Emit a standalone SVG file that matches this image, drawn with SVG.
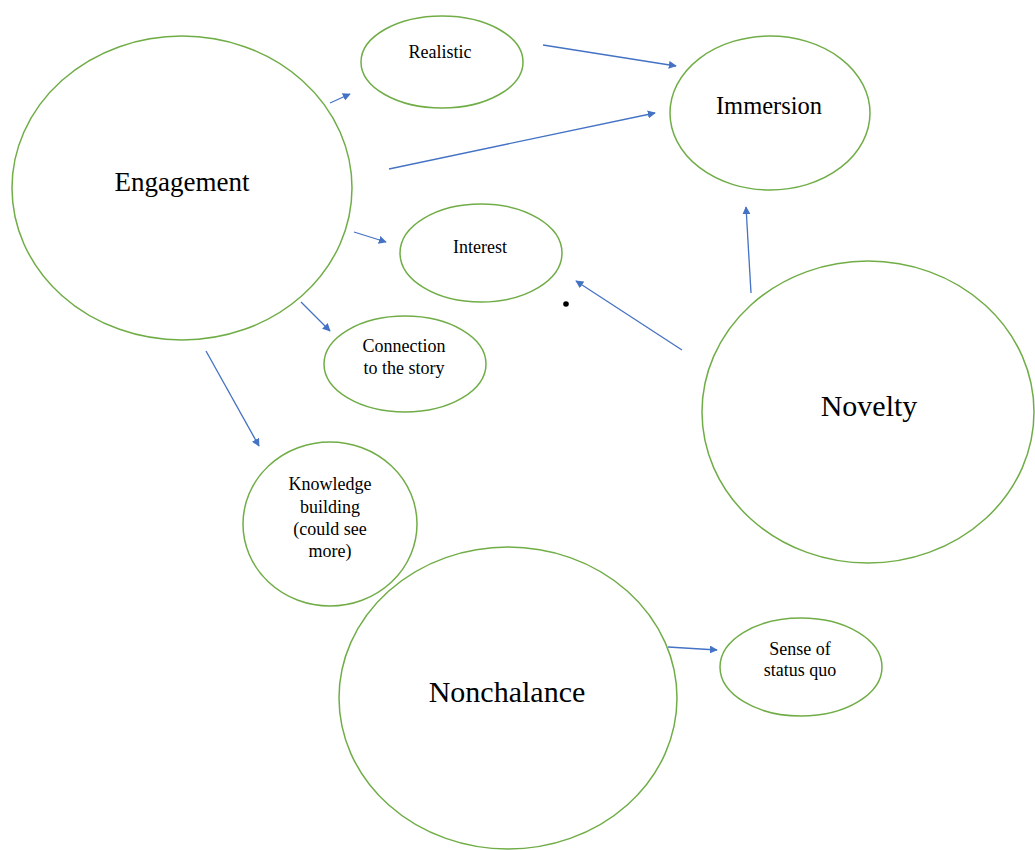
<svg xmlns="http://www.w3.org/2000/svg" width="1035" height="850" viewBox="0 0 1035 850">
<defs>
<style>
.n{fill:#fff;stroke:#70AD47;stroke-width:1.5}
.t{font-family:'Liberation Serif','DejaVu Serif',serif;fill:#000;text-anchor:middle}
.s{font-size:18px}
.c{stroke:#4472C4;stroke-width:1.3;fill:none;marker-end:url(#ah)}
</style>
<marker id="ah" viewBox="0 0 10 10" refX="9" refY="5" markerWidth="8" markerHeight="8" markerUnits="userSpaceOnUse" orient="auto">
<path d="M0,0 L10,5 L0,10 z" fill="#4472C4"/>
</marker>
</defs>
<rect width="1035" height="850" fill="#fff"/>
<g font-family="'Liberation Serif', 'DejaVu Serif', serif">
<g id="engagement"><ellipse class="n" cx="182" cy="188" rx="170" ry="152"/><text class="t" x="182" y="191" font-size="27">Engagement</text></g>
<g id="realistic"><ellipse class="n" cx="442" cy="62" rx="81" ry="46"/><text class="t s" x="440" y="58">Realistic</text></g>
<g id="immersion"><ellipse class="n" cx="770" cy="113" rx="100" ry="77"/><text class="t" x="769" y="114" font-size="24.5">Immersion</text></g>
<g id="interest"><ellipse class="n" cx="481" cy="253" rx="81" ry="49"/><text class="t s" x="480" y="253">Interest</text></g>
<g id="connection"><ellipse class="n" cx="405" cy="364" rx="81" ry="48"/><text class="t s" x="404" y="352">Connection</text><text class="t s" x="404" y="374">to the story</text></g>
<g id="knowledge"><ellipse class="n" cx="330" cy="524" rx="87" ry="82"/><text class="t s" x="330" y="490">Knowledge</text><text class="t s" x="330" y="513">building</text><text class="t s" x="330" y="535">(could see</text><text class="t s" x="330" y="557">more)</text></g>
<g id="novelty"><ellipse class="n" cx="868" cy="412" rx="166" ry="151"/><text class="t" x="869" y="416" font-size="30">Novelty</text></g>
<g id="nonchalance"><ellipse class="n" cx="508" cy="698" rx="169" ry="151"/><text class="t" x="507" y="702" font-size="30">Nonchalance</text></g>
<g id="statusquo"><ellipse class="n" cx="801" cy="667" rx="81" ry="49"/><text class="t s" x="800" y="655">Sense of</text><text class="t s" x="800" y="676">status quo</text></g>
</g>
<g id="dot"><circle cx="566" cy="304" r="2.8" fill="#000"/></g>
<g id="connectors">
<line class="c" x1="330" y1="103" x2="350" y2="94"/>
<line class="c" x1="543" y1="45" x2="676" y2="66"/>
<line class="c" x1="389" y1="169" x2="655" y2="113"/>
<line class="c" x1="354" y1="232" x2="386" y2="242"/>
<line class="c" x1="301" y1="302" x2="330" y2="331"/>
<line class="c" x1="206" y1="351" x2="259" y2="446"/>
<line class="c" x1="682" y1="350" x2="576" y2="281"/>
<line class="c" x1="751" y1="293" x2="746" y2="207"/>
<line class="c" x1="668" y1="647" x2="717" y2="650"/>
</g>
</svg>
